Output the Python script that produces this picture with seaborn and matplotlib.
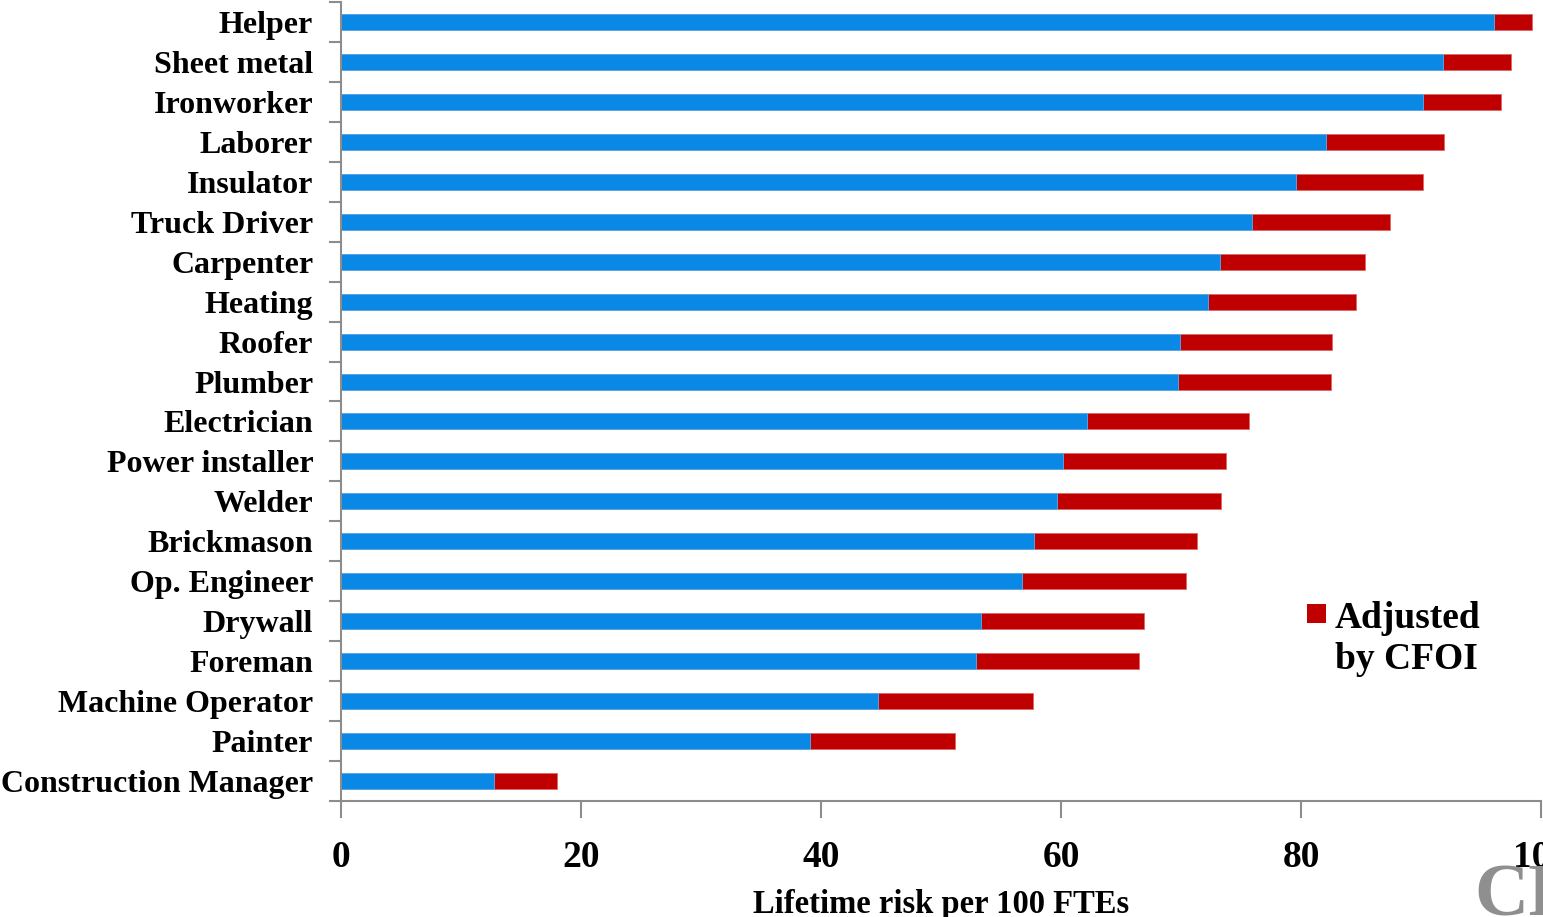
import matplotlib
matplotlib.use("Agg")
import matplotlib.pyplot as plt
from matplotlib.patches import Rectangle
import seaborn as sns
import pandas as pd

occupations = [
    "Helper", "Sheet metal", "Ironworker", "Laborer", "Insulator",
    "Truck Driver", "Carpenter", "Heating", "Roofer", "Plumber",
    "Electrician", "Power installer", "Welder", "Brickmason", "Op. Engineer",
    "Drywall", "Foreman", "Machine Operator", "Painter", "Construction Manager",
]
base_risk = [
    96.1, 91.8, 90.2, 82.1, 79.6,
    75.9, 73.25, 72.25, 69.9, 69.75,
    62.2, 60.2, 59.7, 57.75, 56.75,
    53.3, 52.9, 44.75, 39.1, 12.75,
]
adjusted_risk = [
    99.25, 97.5, 96.7, 91.9, 90.2,
    87.4, 85.3, 84.6, 82.6, 82.5,
    75.7, 73.75, 73.3, 71.3, 70.4,
    66.9, 66.5, 57.7, 51.2, 18.0,
]
x_ticks = [0, 20, 40, 60, 80, 100]

BLUE = "#0A88E6"
RED = "#C00000"
GREY = "#8C8C8C"

sns.set_style("white")
plt.rcParams["font.family"] = ["Liberation Serif", "DejaVu Serif"]
plt.rcParams["font.weight"] = "bold"
plt.rcParams["text.color"] = "black"
plt.rcParams["axes.labelcolor"] = "black"
plt.rcParams["xtick.color"] = "black"
plt.rcParams["ytick.color"] = "black"

df = pd.DataFrame({"job": occupations, "base": base_risk, "adjusted": adjusted_risk})

W, H = 1543, 917
fig = plt.figure(figsize=(W / 100, H / 100), dpi=100)
ax = fig.add_axes([341 / W, 1 - 801 / H, 1200 / W, 799 / H])

# adjusted total in red, unadjusted estimate overlaid in blue
sns.barplot(data=df, x="adjusted", y="job", color=RED, saturation=1,
            width=0.4, orient="h", ax=ax, edgecolor="#E06666", linewidth=0.6)
sns.barplot(data=df, x="base", y="job", color=BLUE, saturation=1,
            width=0.4, orient="h", ax=ax, edgecolor="#5AAEEE", linewidth=0.6)

n = len(occupations)
ax.set_xlim(0, 100)
ax.set_ylim(n - 0.5, -0.5)

ax.set_xticks(x_ticks)
ax.set_xticklabels([str(t) for t in x_ticks], fontsize=27, fontweight="bold",
                   color="black")
ax.tick_params(axis="x", bottom=True, length=12, width=1.5, color=GREY,
               labelcolor="black", pad=16, direction="out")

ax.set_yticks(range(n))
ax.set_yticklabels(occupations, fontsize=23, fontweight="bold", color="black")
ax.set_yticks([i - 0.5 for i in range(n + 1)], minor=True)
ax.tick_params(axis="y", which="major", left=True, length=0, pad=20,
               labelcolor="black")
ax.tick_params(axis="y", which="minor", left=True, length=9, width=1.5,
               color=GREY, direction="out")

ax.set_xlabel("Lifetime risk per 100 FTEs", fontsize=23.5, fontweight="bold",
              labelpad=10, color="black")
ax.set_ylabel("")

for side in ("top", "right"):
    ax.spines[side].set_visible(False)
for side in ("left", "bottom"):
    ax.spines[side].set_color(GREY)
    ax.spines[side].set_linewidth(1.5)

# legend entry for the CFOI adjustment
fig.patches.append(Rectangle((1307 / W, 1 - 623 / H), 19 / W, 19 / H,
                             transform=fig.transFigure, facecolor=RED,
                             edgecolor="none"))
fig.text(1335 / W, 1 - 601 / H, "Adjusted\nby CFOI", fontsize=27,
         fontweight="bold", ha="left", va="top", linespacing=1.22,
         color="black", transform=fig.transFigure)

# partial logo at the lower right corner
fig.text(1474 / W, 1 - 864 / H, "CPWR", fontsize=54, fontweight="bold",
         color="#8F8F8F", ha="left", va="top")

fig.savefig("out.png", dpi=100)
